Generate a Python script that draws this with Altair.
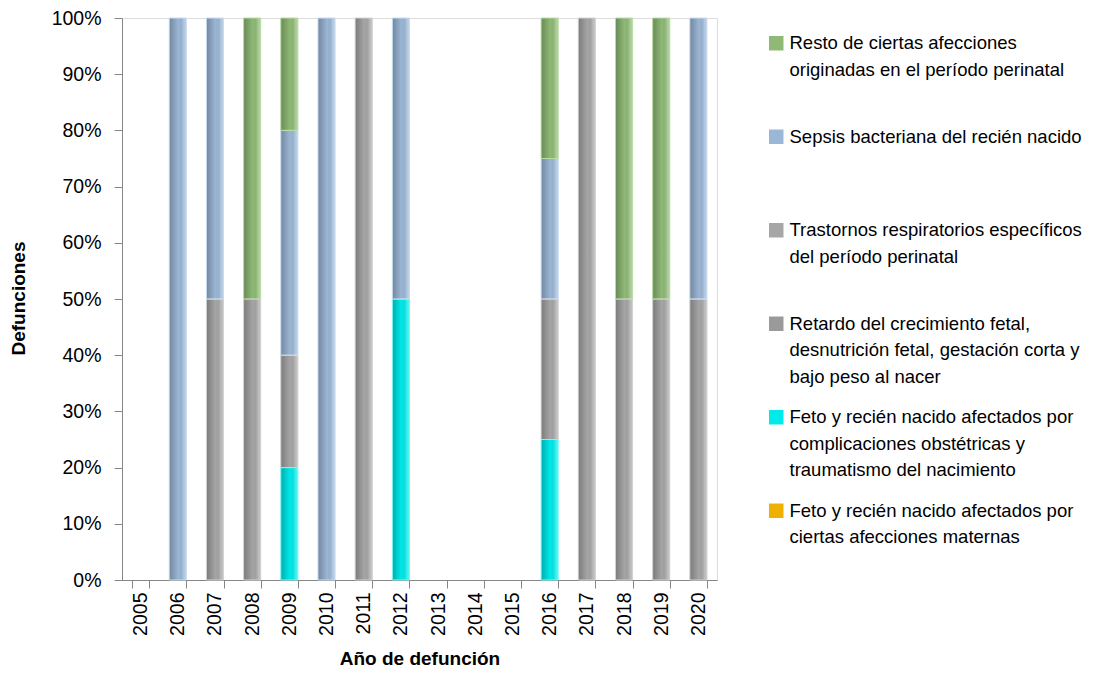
import altair as alt
import pandas as pd

years = ["2005", "2006", "2007", "2008", "2009", "2010", "2011", "2012",
         "2013", "2014", "2015", "2016", "2017", "2018", "2019", "2020"]

# series, bottom of stack first
s_maternas = "Feto y recién nacido afectados por ciertas afecciones maternas"
s_complic = "Feto y recién nacido afectados por complicaciones obstétricas y traumatismo del nacimiento"
s_retardo = "Retardo del crecimiento fetal, desnutrición fetal, gestación corta y bajo peso al nacer"
s_trast = "Trastornos respiratorios específicos del período perinatal"
s_sepsis = "Sepsis bacteriana del recién nacido"
s_resto = "Resto de ciertas afecciones originadas en el período perinatal"

maternas = [0, 0, 0, 0, 0, 0, 0, 0, 0, 0, 0, 0, 0, 0, 0, 0]
complic = [0, 0, 0, 0, 1, 0, 0, 1, 0, 0, 0, 1, 0, 0, 0, 0]
retardo = [0, 0, 0, 0, 0, 0, 0, 0, 0, 0, 0, 0, 0, 0, 0, 0]
trastornos = [0, 0, 1, 1, 1, 0, 1, 0, 0, 0, 0, 1, 1, 1, 1, 1]
sepsis = [0, 1, 1, 0, 2, 1, 0, 1, 0, 0, 0, 1, 0, 0, 0, 1]
resto = [0, 0, 0, 1, 1, 0, 0, 0, 0, 0, 0, 1, 0, 1, 1, 0]

stack_series = [s_maternas, s_complic, s_retardo, s_trast, s_sepsis, s_resto]
stack_values = [maternas, complic, retardo, trastornos, sepsis, resto]

legend_order = [s_resto, s_sepsis, s_trast, s_retardo, s_complic, s_maternas]
fill_colors = ["#8fba76", "#9bb7d6", "#a6a6a6", "#9a9a9a", "#00eaea", "#f0b000"]
stroke_colors = ["#b9dca4", "#c8ddf2", "#d2d2d2", "#cccccc", "#7ff7f7", "#ffd966"]

legend_lines = {
    s_resto: ["Resto de ciertas afecciones", "originadas en el período perinatal"],
    s_sepsis: ["Sepsis bacteriana del recién nacido"],
    s_trast: ["Trastornos respiratorios específicos", "del período perinatal"],
    s_retardo: ["Retardo del crecimiento fetal,", "desnutrición fetal, gestación corta y", "bajo peso al nacer"],
    s_complic: ["Feto y recién nacido afectados por", "complicaciones obstétricas y", "traumatismo del nacimiento"],
    s_maternas: ["Feto y recién nacido afectados por", "ciertas afecciones maternas"],
}

y_ticks = [0, 0.1, 0.2, 0.3, 0.4, 0.5, 0.6, 0.7, 0.8, 0.9, 1.0]

rows = []
for rank, (name, vals) in enumerate(zip(stack_series, stack_values)):
    for yr, v in zip(years, vals):
        if v > 0:
            rows.append({"anio": yr, "serie": name, "valor": v, "rank": rank})
df = pd.DataFrame(rows)

expr = "datum.label"
for name in reversed(legend_order):
    arr = "[" + ",".join("'" + s + "'" for s in legend_lines[name]) + "]"
    expr = f"datum.label == '{name}' ? {arr} : ({expr})"

FONT = "Liberation Sans"

x_enc = alt.X(
    "anio:N",
    scale=alt.Scale(domain=years, paddingInner=0.54, paddingOuter=0.27),
    axis=alt.Axis(
        title="Año de defunción", labelAngle=270, labelAlign="right",
        labelBaseline="middle", labelPadding=4, tickBand="extent", tickSize=8,
        labelFontSize=19.5, titleFontSize=19, titleFontWeight="bold",
        titlePadding=14, labelColor="#000000", titleColor="#000000",
        domainColor="#868686", tickColor="#868686", labelFont=FONT, titleFont=FONT,
    ),
)
y_enc = alt.Y(
    "valor:Q", stack="normalize",
    scale=alt.Scale(domain=[0, 1], nice=False),
    axis=alt.Axis(
        title="Defunciones", values=y_ticks, format=".0%", grid=False,
        tickSize=8, labelPadding=13, labelFontSize=19.5, titleFontSize=19,
        titleFontWeight="bold", labelColor="#000000", titleColor="#000000",
        domainColor="#868686", tickColor="#868686", labelFont=FONT, titleFont=FONT,
        titleX=-104, titleY=280, titleAngle=270, titleAlign="center",
        titleBaseline="middle",
    ),
)

base = alt.Chart(df).mark_bar(strokeWidth=0).encode(
    x=x_enc,
    y=y_enc,
    color=alt.Color(
        "serie:N",
        scale=alt.Scale(domain=legend_order, range=fill_colors),
        legend=alt.Legend(
            title=None, orient="none", legendX=645, legendY=16,
            symbolType="square", symbolSize=210, symbolStrokeWidth=0,
            labelFontSize=18.5, labelFont=FONT, labelColor="#000000",
            labelLimit=400, labelOffset=4, gridAlign="all", rowPadding=21.5,
            labelExpr=expr, labelBaseline="middle", padding=0,
        ),
    ),
    order=alt.Order("rank:Q"),
)

grad = alt.Gradient(
    gradient="linear",
    stops=[
        alt.GradientStop(color="rgba(0,0,0,0.26)", offset=0),
        alt.GradientStop(color="rgba(0,0,0,0.0)", offset=0.55),
        alt.GradientStop(color="rgba(255,255,255,0.22)", offset=0.85),
        alt.GradientStop(color="rgba(255,255,255,0.35)", offset=1),
    ],
    x1=0, x2=1, y1=0, y2=0,
)

overlay = alt.Chart(df).mark_bar(color=grad, strokeWidth=1).encode(
    x=alt.X("anio:N", scale=alt.Scale(domain=years, paddingInner=0.54, paddingOuter=0.27)),
    y=alt.Y("valor:Q", stack="normalize"),
    detail="serie:N",
    stroke=alt.Stroke("serie:N", scale=alt.Scale(domain=legend_order, range=stroke_colors), legend=None),
    order=alt.Order("rank:Q"),
)

chart = alt.layer(base, overlay).properties(
    width=595, height=562,
    autosize=alt.AutoSizeParams(type="none"),
    padding={"left": 114, "top": 10, "right": 372, "bottom": 94},
).configure_view(stroke=None).configure(
    font=FONT,
    style={"guide-label": {"lineHeight": 26.5}},
)

chart.save("out.html", embed_options={"renderer": "svg", "actions": False})
